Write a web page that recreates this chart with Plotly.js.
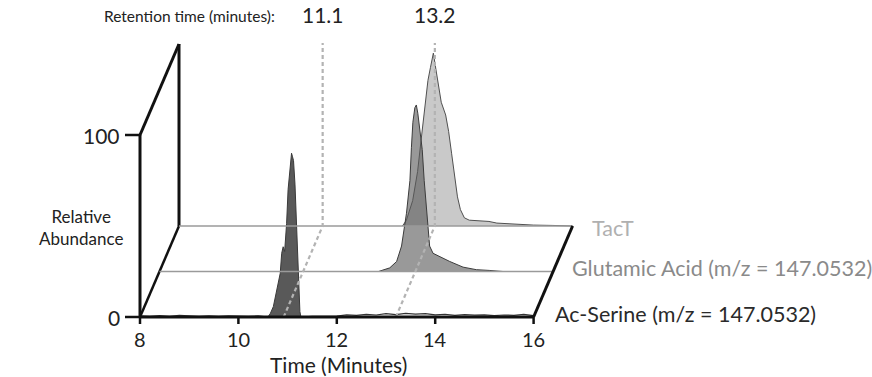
<!DOCTYPE html>
<html>
<head>
<meta charset="utf-8">
<script src="https://cdn.plot.ly/plotly-3.0.1.min.js"></script>
<style>html,body{margin:0;padding:0;background:#fff;}#chart{width:872px;height:377px;}</style>
</head>
<body>
<div id="chart"></div>
<script>
// ---- data (time in minutes, relative abundance in %) ----
const seriesNames = ["Ac-Serine (m/z = 147.0532)", "Glutamic Acid (m/z = 147.0532)", "TacT"];

const acSerineTime = [10.6, 10.65, 10.71, 10.78, 10.85, 10.88, 10.91, 10.94, 10.98, 11.01, 11.05, 11.08, 11.1, 11.12, 11.15, 11.18, 11.22, 11.25, 11.27];
const acSerineAbund = [0, 2, 5.7, 15, 24, 35, 38.6, 36, 51.5, 70, 82.6, 90, 88, 86, 73, 51.5, 24, 3, 0];

const acSerineNoiseTime = [8.0, 8.2, 8.4, 8.6, 8.8, 9.0, 9.2, 9.4, 9.6, 9.8, 10.0, 10.2, 10.4, 10.6, 11.27, 11.5, 11.8, 12.0, 12.2, 12.4, 12.6, 12.8, 13.0, 13.2, 13.4, 13.6, 13.8, 14.0, 14.2, 14.4, 14.6, 14.8, 15.0, 15.2, 15.4, 15.6, 15.8, 16.0];
const acSerineNoiseAbund = [0.6, 0.3, 0.8, 0.4, 0.9, 0.5, 0.3, 0.6, 0.4, 0.7, 0.5, 0.3, 0.6, 0, 0, 0.4, 0.3, 0.5, 1.2, 0.9, 1.4, 1.1, 1.8, 1.3, 2.0, 1.6, 1.9, 1.2, 1.5, 0.9, 1.3, 1.0, 1.2, 0.8, 1.1, 0.9, 1.4, 0.8];

const glutamicTime = [12.45, 12.52, 12.68, 12.82, 12.92, 13.02, 13.09, 13.12, 13.15, 13.19, 13.22, 13.25, 13.29, 13.34, 13.38, 13.42, 13.45, 13.49, 13.56, 13.7, 13.9, 14.17, 14.44, 14.7, 14.98];
const glutamicAbund = [0, 0.5, 2, 5.5, 14, 32, 50, 68, 82, 90, 91.5, 87, 78, 67, 50, 36, 25, 14, 10, 8, 5.5, 2.4, 1, 0.6, 0];

const tactTime = [12.54, 12.62, 12.75, 12.85, 12.92, 13.0, 13.06, 13.11, 13.17, 13.21, 13.26, 13.33, 13.42, 13.48, 13.54, 13.61, 13.66, 13.72, 13.8, 13.9, 14.05, 14.2, 14.3, 14.46, 14.7, 14.9, 15.2, 15.6, 16.0];
const tactAbund = [0, 3, 14, 30, 47, 68, 80, 87, 95, 88, 80, 68, 61, 52, 40, 27, 16, 9, 4.5, 3.2, 2.8, 2.6, 2.5, 1.6, 1.2, 0.8, 0.5, 0.3, 0];

const retentionLabels = ["11.1", "13.2"];
const retentionLineTime = [10.92, 13.2];

const xTickValues = [8, 10, 12, 14, 16];
const yTickValues = [0, 100];

// ---- geometry / style ----
const X0 = 8, X1 = 16, YMAX = 100;
const PX_PER_MIN = 49.2, PX_PER_PCT = 1.82;
const DEPTH_DX = 39 / PX_PER_MIN;   // minutes shift of the back plane
const DEPTH_DY = 91 / PX_PER_PCT;   // % shift of the back plane
const W = 872, H = 377;
const xRange = [X0 - 140 / PX_PER_MIN, X0 + (W - 140) / PX_PER_MIN];
const yRange = [-(H - 317) / PX_PER_PCT, 317 / PX_PER_PCT];

function proj(ts, hs, d) {
  return { x: ts.map(t => t + d * DEPTH_DX), y: hs.map(h => h + d * DEPTH_DY) };
}
function line(xs, ys, color, width, dash) {
  return { x: xs, y: ys, type: 'scatter', mode: 'lines', hoverinfo: 'skip', showlegend: false,
    line: { color: color, width: width, dash: dash || 'solid' } };
}
function peak(ts, hs, d, fillColor, lineColor) {
  const p = proj(ts, hs, d);
  return { x: p.x, y: p.y, type: 'scatter', mode: 'lines', fill: 'toself', fillcolor: fillColor,
    hoverinfo: 'skip', showlegend: false, line: { color: lineColor, width: 1 } };
}

const traces = [];
// back wall and floor frame
traces.push(line([X0 + DEPTH_DX, X0 + DEPTH_DX], [DEPTH_DY, YMAX + DEPTH_DY], '#111', 3));
traces.push(line([X0, X0 + DEPTH_DX], [YMAX, YMAX + DEPTH_DY], '#111', 3));
traces.push(line([X0, X0 + DEPTH_DX], [0, DEPTH_DY], '#111', 2.5));
// TacT (back)
traces.push(peak(tactTime, tactAbund, 1, '#c9c9c9', '#505050'));
// Glutamic (middle)
traces.push(peak(glutamicTime, glutamicAbund, 0.5, 'rgba(90,90,90,0.62)', '#3c3c3c'));
// Ac-Serine (front)
traces.push(peak(acSerineTime, acSerineAbund, 0, '#595959', '#3a3a3a'));
const nz = proj(acSerineNoiseTime, acSerineNoiseAbund, 0);
traces.push(line(nz.x, nz.y, '#333', 1.2));
// gray baselines of back and middle planes
traces.push(line([X0 + DEPTH_DX, X1 + DEPTH_DX], [DEPTH_DY, DEPTH_DY], '#9a9a9a', 1.3));
traces.push(line([X0 + DEPTH_DX / 2, X1 + DEPTH_DX / 2], [DEPTH_DY / 2, DEPTH_DY / 2], '#9a9a9a', 1.3));
// retention dashed lines
retentionLineTime.forEach(rt => {
  traces.push(line([rt, rt + DEPTH_DX, rt + DEPTH_DX], [0, DEPTH_DY, YMAX + DEPTH_DY + 0.5], '#b3b3b3', 2.2, '4px,3px'));
});
// front axis lines
traces.push(line([X0, X0], [0, YMAX], '#111', 3));
traces.push(line([X0, X1], [0, 0], '#111', 3));
traces.push(line([X1, X1 + DEPTH_DX], [0, DEPTH_DY], '#111', 3));
// ticks
const tickLenX = 7 / PX_PER_PCT, tickLenY = 15 / PX_PER_MIN;
xTickValues.forEach(t => traces.push(line([t, t], [0, -tickLenX], '#111', 2.5)));
yTickValues.forEach(v => traces.push(line([X0 - tickLenY, X0], [v, v], '#111', 2.5)));

const FONT = 'Lato, Liberation Sans, Arial, sans-serif';
const annotations = [];
const px = x => x / W, py = y => 1 - y / H;
xTickValues.forEach(t => annotations.push({ x: t, y: -22 / PX_PER_PCT, xref: 'x', yref: 'y', text: String(t),
  showarrow: false, xanchor: 'center', yanchor: 'middle', font: { family: FONT, size: 20, color: '#222' } }));
yTickValues.forEach(v => annotations.push({ x: X0 - 18 / PX_PER_MIN, y: v, xref: 'x', yref: 'y', text: String(v),
  showarrow: false, xanchor: 'right', yanchor: 'middle', font: { family: FONT, size: 21, color: '#222' } }));
annotations.push({ x: px(338), y: py(364), xref: 'paper', yref: 'paper', text: 'Time (Minutes)', showarrow: false,
  xanchor: 'center', yanchor: 'middle', font: { family: FONT, size: 21, color: '#222' } });
annotations.push({ x: px(81), y: py(228), xref: 'paper', yref: 'paper', text: 'Relative<br>Abundance', showarrow: false,
  xanchor: 'center', yanchor: 'middle', align: 'center', font: { family: FONT, size: 17, color: '#222' } });
annotations.push({ x: px(189), y: py(16), xref: 'paper', yref: 'paper', text: 'Retention time (minutes):', showarrow: false,
  xanchor: 'center', yanchor: 'middle', font: { family: FONT, size: 15.5, color: '#222' } });
retentionLabels.forEach((lab, i) => annotations.push({ x: retentionLineTime[i] + DEPTH_DX, y: py(15), xref: 'x', yref: 'paper',
  text: lab, showarrow: false, xanchor: 'center', yanchor: 'middle', font: { family: FONT, size: 21, color: '#222' } }));
// series labels
const labelColors = ['#2a2a2a', '#8a8a8a', '#b0b0b0'];
const labelPx = [553, 570, 590];
const labelPy = [314, 268, 228];
seriesNames.forEach((n, i) => annotations.push({ x: px(labelPx[i]), y: py(labelPy[i]), xref: 'paper', yref: 'paper',
  text: n, showarrow: false, xanchor: 'left', yanchor: 'middle', font: { family: FONT, size: 21.5, color: labelColors[i] } }));

const layout = {
  width: W, height: H, margin: { l: 0, r: 0, t: 0, b: 0 },
  paper_bgcolor: '#fff', plot_bgcolor: '#fff', showlegend: false,
  xaxis: { range: xRange, visible: false, fixedrange: true },
  yaxis: { range: yRange, visible: false, fixedrange: true },
  annotations: annotations
};
Plotly.newPlot('chart', traces, layout, { staticPlot: true, displayModeBar: false });
</script>
</body>
</html>
